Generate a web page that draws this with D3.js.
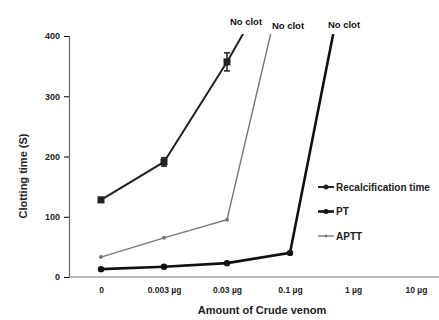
<!DOCTYPE html>
<html>
<head>
<meta charset="utf-8">
<script src="https://cdn.jsdelivr.net/npm/d3@7"></script>
<style>
  body { margin: 0; background: #fff; }
  svg { font-family: "Liberation Sans", Arial, sans-serif; }
</style>
</head>
<body>
<svg id="chart" width="439" height="320"></svg>
<script>
// categories on the x axis
let doses = ["0", "0.003 µg", "0.03 µg", "0.1 µg", "1 µg", "10 µg"];
let yTicks = [0, 100, 200, 300, 400];

// measured clotting times (s)
let recalc = [128, 191, 357];
let recalcErr = [4, 7, 15];
let pt = [13, 17, 23, 40];
let aptt = [33, 65, 95];

// "No clot": line runs off the top of the axis towards the next dose
let recalcNoClot = { dose: "0.1 µg", value: 540 };
let ptNoClot = { dose: "1 µg", value: 570 };
let apttNoClot = { dose: "0.1 µg", value: 540 };

let svg = d3.select("#chart");

let x = d3.scalePoint().domain(doses).range([101, 416]);
let y = d3.scaleLinear().domain([0, 400]).range([277, 36]);

// clip so the "no clot" segments stop at the top of the axis
svg.append("clipPath").attr("id", "clip")
  .append("rect").attr("x", 69).attr("y", 34).attr("width", 370).attr("height", 250);

// axes
let yAxis = svg.append("g")
  .attr("transform", "translate(69,0)")
  .call(d3.axisLeft(y).tickValues(yTicks).tickSize(5).tickPadding(4));
yAxis.select(".domain").attr("stroke", "#666").attr("stroke-width", 1.2);
yAxis.selectAll("text").attr("font-size", 9).attr("font-weight", "bold").attr("fill", "#222");

let xAxis = svg.append("g")
  .attr("transform", "translate(0,277)")
  .call(d3.axisBottom(x).tickSize(0).tickPadding(10));
xAxis.select(".domain").attr("d", "M69,0H439").attr("stroke", "#777").attr("stroke-width", 1.2);
xAxis.selectAll("text").attr("font-size", 8.5).attr("font-weight", "bold").attr("fill", "#222");

// axis titles
svg.append("text")
  .attr("transform", "translate(27,176) rotate(-90)")
  .attr("text-anchor", "middle")
  .attr("font-size", 11).attr("font-weight", "bold").attr("fill", "#222")
  .text("Clotting time (S)");

svg.append("text")
  .attr("x", 262).attr("y", 314)
  .attr("text-anchor", "middle")
  .attr("font-size", 11).attr("font-weight", "bold").attr("fill", "#222")
  .text("Amount of Crude venom");

let line = d3.line().x(d => x(d.dose)).y(d => y(d.value));

function toPoints(vals) {
  return vals.map((v, i) => ({ dose: doses[i], value: v }));
}

let series = [
  { name: "Recalcification time", vals: recalc, end: recalcNoClot, color: "#222", width: 2, marker: "square", r: 3.5 },
  { name: "PT", vals: pt, end: ptNoClot, color: "#111", width: 2.6, marker: "circle", r: 3.2 },
  { name: "APTT", vals: aptt, end: apttNoClot, color: "#777", width: 1.4, marker: "tick", r: 2 }
];

let plot = svg.append("g").attr("clip-path", "url(#clip)");

series.forEach(s => {
  let pts = toPoints(s.vals);
  plot.append("path")
    .datum(pts.concat([s.end]))
    .attr("fill", "none")
    .attr("stroke", s.color)
    .attr("stroke-width", s.width)
    .attr("d", line);

  let g = svg.append("g");
  if (s.marker === "square") {
    g.selectAll("rect").data(pts).enter().append("rect")
      .attr("x", d => x(d.dose) - s.r).attr("y", d => y(d.value) - s.r)
      .attr("width", s.r * 2).attr("height", s.r * 2)
      .attr("fill", s.color);
  } else {
    g.selectAll("circle").data(pts).enter().append("circle")
      .attr("cx", d => x(d.dose)).attr("cy", d => y(d.value)).attr("r", s.r)
      .attr("fill", s.color);
  }
});

// error bars on recalcification time
let eb = svg.append("g").attr("stroke", "#222").attr("stroke-width", 1.5);
toPoints(recalc).forEach((d, i) => {
  let e = recalcErr[i];
  let cx = x(d.dose);
  eb.append("line").attr("x1", cx).attr("x2", cx).attr("y1", y(d.value - e)).attr("y2", y(d.value + e));
  eb.append("line").attr("x1", cx - 3).attr("x2", cx + 3).attr("y1", y(d.value - e)).attr("y2", y(d.value - e));
  eb.append("line").attr("x1", cx - 3).attr("x2", cx + 3).attr("y1", y(d.value + e)).attr("y2", y(d.value + e));
});

// "No clot" labels at the top of each runaway line
let noClotLabels = [
  { x: 246, y: 25 },
  { x: 288, y: 29 },
  { x: 344, y: 28 }
];
svg.selectAll(".noclot").data(noClotLabels).enter().append("text")
  .attr("class", "noclot")
  .attr("x", d => d.x).attr("y", d => d.y)
  .attr("text-anchor", "middle")
  .attr("font-size", 9.5).attr("font-weight", "bold").attr("fill", "#111")
  .text("No clot");

// legend
let legend = svg.append("g");
series.forEach((s, i) => {
  let ly = 187 + i * 24.5;
  legend.append("line")
    .attr("x1", 318).attr("x2", 334).attr("y1", ly).attr("y2", ly)
    .attr("stroke", s.color).attr("stroke-width", s.width);
  legend.append("circle").attr("cx", 326).attr("cy", ly).attr("r", s.marker === "tick" ? 1.5 : 2.5)
    .attr("fill", s.color);
  legend.append("text")
    .attr("x", 336).attr("y", ly + 3.5)
    .attr("font-size", 10).attr("font-weight", "bold").attr("fill", "#222")
    .text(s.name);
});
</script>
</body>
</html>
